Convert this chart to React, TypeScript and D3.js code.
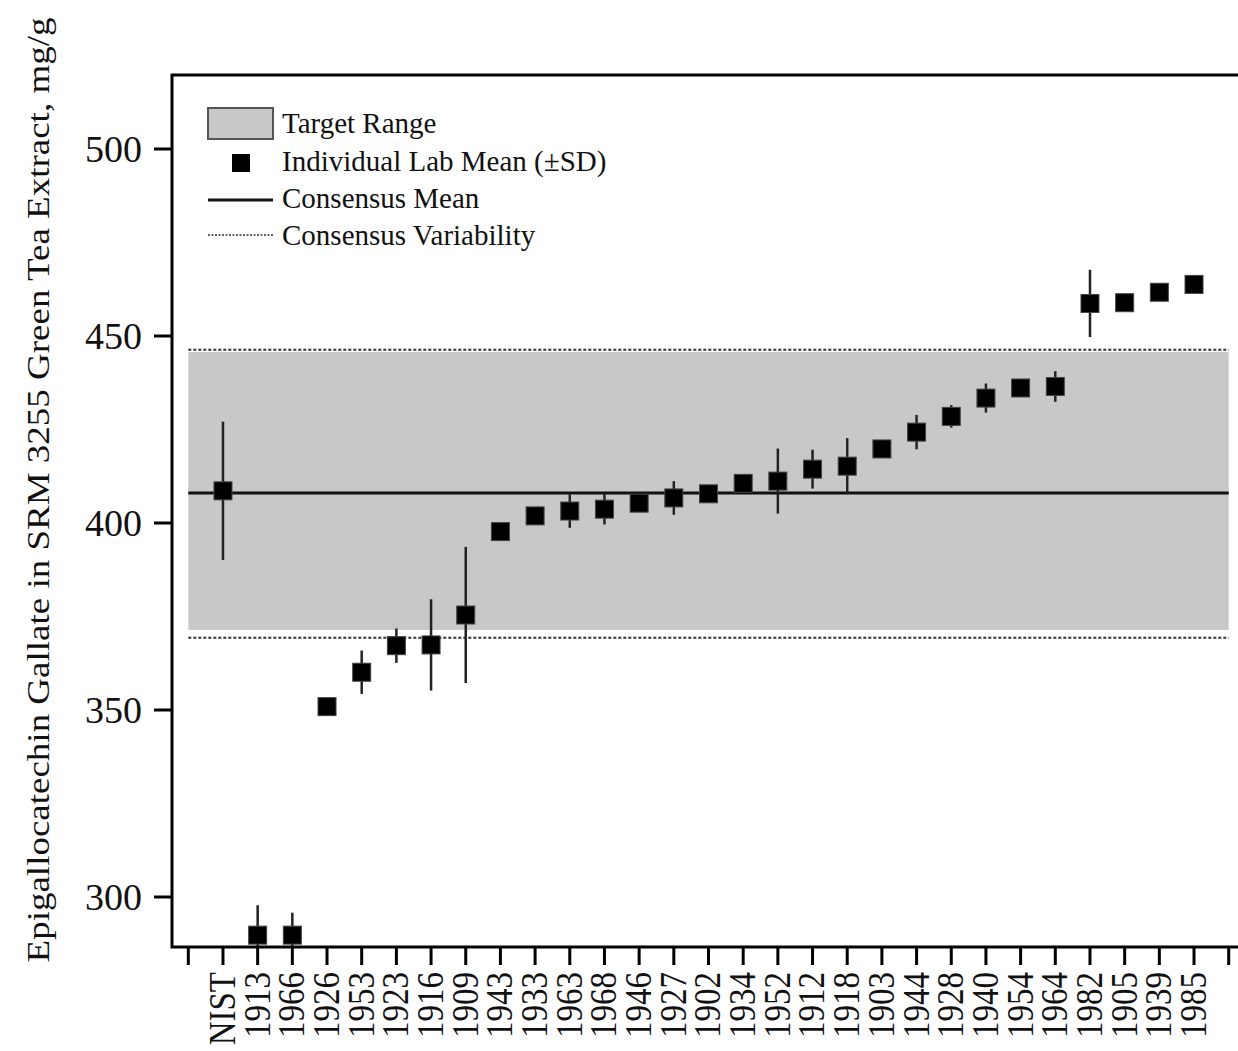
import React from "react";
import { scaleLinear, range } from "d3";

const labs = [
  "NIST", "1913", "1966", "1926", "1953", "1923", "1916", "1909", "1943", "1933",
  "1963", "1968", "1946", "1927", "1902", "1934", "1952", "1912", "1918", "1903",
  "1944", "1928", "1940", "1954", "1964", "1982", "1905", "1939", "1985",
];
const means = [
  408.6, 289.8, 289.8, 350.9, 360.1, 367.2, 367.4, 375.4, 397.7, 401.9,
  403.2, 403.7, 405.3, 406.7, 407.8, 410.6, 411.2, 414.4, 415.2, 419.8,
  424.3, 428.5, 433.4, 436.1, 436.5, 458.7, 458.9, 461.7, 463.8,
];
const sds = [
  18.5, 8.0, 6.0, 0.5, 5.8, 4.6, 12.2, 18.2, 0.5, 0.5,
  4.5, 4.1, 1.0, 4.5, 0.5, 0.5, 8.7, 5.2, 7.5, 0.5,
  4.6, 3.0, 3.9, 0.5, 4.1, 9.0, 1.0, 0.5, 0.5,
];
const yTicks = [300, 350, 400, 450, 500];
const consensusMean = 408.0;
const targetRange = [371.4, 445.7];
const variability = [369.3, 446.3];

const FONT = '"Liberation Serif", "Times New Roman", serif';
const W = 1238;
const H = 1051;
const FRAME = { left: 172, right: 1246, top: 75, bottom: 947 };

export default function App() {
  const x = scaleLinear().domain([-1, 29]).range([188.3, 1228.7]);
  const y = scaleLinear().domain([300, 500]).range([897, 149]);
  const x0 = x(-1);
  const x1 = x(29);
  const half = 9;

  return (
    <svg
      width={W}
      height={H}
      style={{ position: "absolute", left: 0, top: 0, background: "#fff" }}
      fontFamily={FONT}
    >
      <defs>
        <clipPath id="plot">
          <rect
            x={FRAME.left}
            y={FRAME.top}
            width={FRAME.right - FRAME.left}
            height={FRAME.bottom - FRAME.top}
          />
        </clipPath>
      </defs>

      <g clipPath="url(#plot)">
        {/* target range */}
        <rect
          x={x0}
          y={y(targetRange[1])}
          width={x1 - x0}
          height={y(targetRange[0]) - y(targetRange[1])}
          fill="#c8c8c8"
        />
        {variability.map((v) => (
          <line
            key={v}
            x1={x0}
            x2={x1}
            y1={y(v)}
            y2={y(v)}
            stroke="#333"
            strokeWidth={2}
            strokeDasharray="3,2"
          />
        ))}
        <line
          x1={x0}
          x2={x1}
          y1={y(consensusMean)}
          y2={y(consensusMean)}
          stroke="#111"
          strokeWidth={3}
        />
        {means.map((m, i) => (
          <g key={labs[i]}>
            <line
              x1={x(i)}
              x2={x(i)}
              y1={y(m + sds[i])}
              y2={y(m - sds[i])}
              stroke="#222"
              strokeWidth={2.5}
            />
            <rect
              x={x(i) - half}
              y={y(m) - half}
              width={half * 2}
              height={half * 2}
              fill="#000"
              stroke="#444"
              strokeWidth={1}
            />
          </g>
        ))}
      </g>

      {/* frame */}
      <rect
        x={FRAME.left}
        y={FRAME.top}
        width={FRAME.right - FRAME.left}
        height={FRAME.bottom - FRAME.top}
        fill="none"
        stroke="#000"
        strokeWidth={3}
      />

      {/* y axis */}
      {yTicks.map((t) => (
        <g key={t}>
          <line x1={FRAME.left - 18} x2={FRAME.left} y1={y(t)} y2={y(t)} stroke="#000" strokeWidth={3} />
          <text x={142} y={y(t)} dy="0.35em" textAnchor="end" fontSize={38} fill="#111">
            {t}
          </text>
        </g>
      ))}

      {/* x axis */}
      {range(-1, 30).map((i) => (
        <line
          key={i}
          x1={x(i)}
          x2={x(i)}
          y1={FRAME.bottom}
          y2={FRAME.bottom + 18}
          stroke="#000"
          strokeWidth={3}
        />
      ))}
      {labs.map((l, i) => (
        <text
          key={l}
          transform={`translate(${x(i) - 1},${FRAME.bottom + 25}) rotate(-90) scale(1,1.12)`}
          textAnchor="end"
          dy="0.35em"
          fontSize={33}
          fill="#111"
        >
          {l}
        </text>
      ))}

      {/* axis title */}
      <text
        transform={`translate(38,490) rotate(-90) scale(1,0.85)`}
        textAnchor="middle"
        dy="0.35em"
        fontSize={37}
        fill="#111"
      >
        Epigallocatechin Gallate in SRM 3255 Green Tea Extract, mg/g
      </text>

      {/* legend */}
      <g fontSize={29} fill="#111">
        <rect x={208} y={108} width={65} height={31} fill="#c8c8c8" stroke="#555" strokeWidth={2} />
        <text x={282} y={133}>Target Range</text>
        <rect x={232} y={154} width={18} height={18} fill="#000" />
        <text x={282} y={171}>Individual Lab Mean (±SD)</text>
        <line x1={208} x2={273} y1={200} y2={200} stroke="#111" strokeWidth={3} />
        <text x={282} y={208}>Consensus Mean</text>
        <line x1={208} x2={273} y1={235} y2={235} stroke="#333" strokeWidth={1.5} strokeDasharray="2,1.5" />
        <text x={282} y={245}>Consensus Variability</text>
      </g>
    </svg>
  );
}
